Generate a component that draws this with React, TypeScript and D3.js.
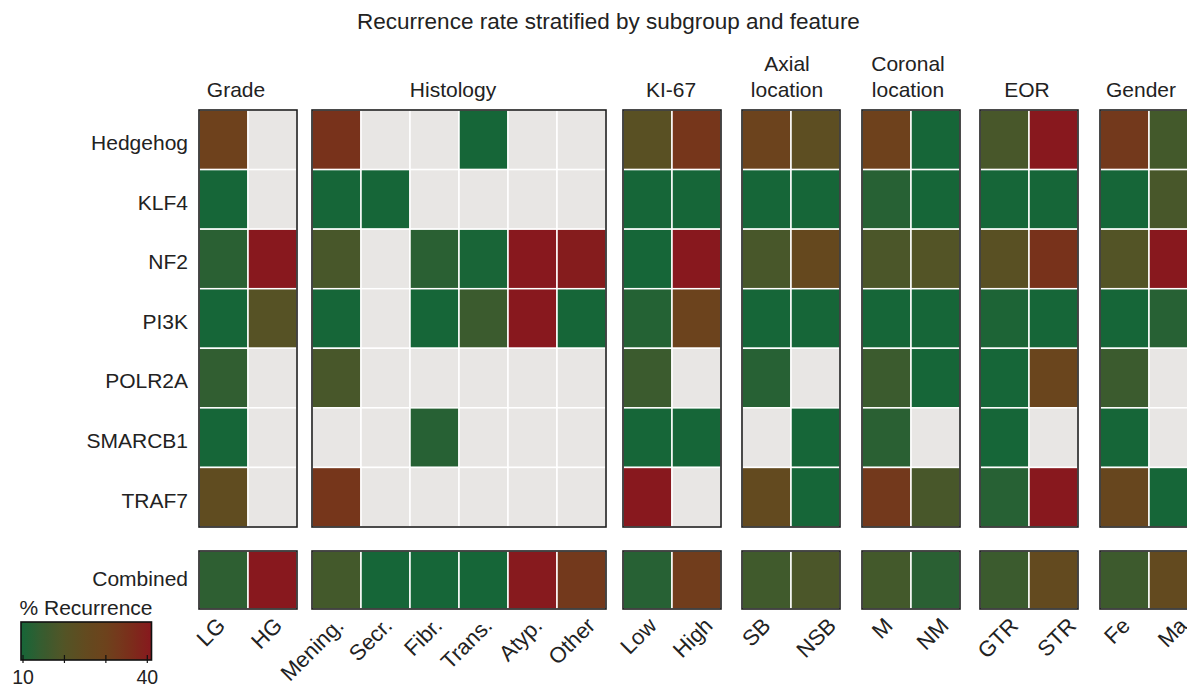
import React from "react";
import * as d3 from "d3";

const W = 1187;
const H = 688;
const FONT = "'Liberation Sans', Arial, Helvetica, sans-serif";

const genes = ["Hedgehog", "KLF4", "NF2", "PI3K", "POLR2A", "SMARCB1", "TRAF7"];

// panel headers (multi-line) and column labels
const panelTitles = [["Grade"], ["Histology"], ["KI-67"], ["Axial", "location"], ["Coronal", "location"], ["EOR"], ["Gender"]];
const panelCols = [
  ["LG", "HG"],
  ["Mening.", "Secr.", "Fibr.", "Trans.", "Atyp.", "Other"],
  ["Low", "High"],
  ["SB", "NSB"],
  ["M", "NM"],
  ["GTR", "STR"],
  ["Fe", "Ma"],
];

// % recurrence per gene (rows) and column; null = no data (gray)
const gradeVals = [[30, null], [10, null], [13, 40], [10, 21], [14, null], [10, null], [24, null]];
const histologyVals = [
  [34, null, null, 10, null, null],
  [10, 10, null, null, null, null],
  [18, null, 13, 10.5, 40, 39],
  [10, null, 10, 15.5, 40, 10],
  [18, null, null, null, null, null],
  [null, null, 12.5, null, null, null],
  [33, null, null, null, null, null],
];
const ki67Vals = [[22, 33], [10, 10], [10, 40], [12, 29], [15.5, null], [10, 10], [40, null]];
const axialVals = [[29, 23], [10, 10], [18, 26], [10, 10], [12.5, null], [null, 10], [25, 10]];
const coronalVals = [[30, 10], [12.5, 10], [18.5, 20], [10, 10], [15.5, 10], [13, null], [32, 18]];
const eorVals = [[18, 40], [10, 10], [22, 34], [11, 10], [10, 28], [10, null], [12.5, 40]];
const genderVals = [[32, 17], [10, 18], [20, 40], [10, 12.5], [15.5, null], [10, null], [27, 10]];

const combinedVals = [
  [13.5, 40],
  [17, 10, 10, 10, 39.5, 32],
  [12.5, 31],
  [16.5, 18.5],
  [17, 13],
  [15.5, 25],
  [16, 25],
];

const panelVals = [gradeVals, histologyVals, ki67Vals, axialVals, coronalVals, eorVals, genderVals];

const legendTicks = [10, 20, 30, 40];
const legendLabels = [10, 40];

// colour map stops (value -> colour)
const cmapDomain = [10, 15, 20, 25, 30, 35, 40];
const cmapRange = ["#166638", "#385c2f", "#535426", "#634a1f", "#6e411c", "#7b2e1b", "#88181e"];

// layout
const panelLeft = [199, 312, 623, 742, 862, 980, 1100];
const headerShift = [-12, -6, -1, -4, -3, -2, -8];
const labelShift = [
  [3, 11],
  [8.5, 8, 9, 10, 11, 15],
  [10.5, 17.5],
  [5.5, 22],
  [7.5, 14.5],
  [15, 24],
  [7, 15],
];
const CELL_W = 49;
const GRID_TOP = 110;
const GRID_BOTTOM = 527;
const COMB_TOP = 551;
const COMB_BOTTOM = 609;
const NA_COLOR = "#e8e6e4";

const color = d3
  .scaleLinear<string>()
  .domain(cmapDomain)
  .range(cmapRange)
  .interpolate(d3.interpolateRgb)
  .clamp(true);

export default function App() {
  const yScale = d3.scaleBand().domain(genes).range([GRID_TOP, GRID_BOTTOM]);
  const legendX = d3.scaleLinear().domain([10, 40]).range([23, 147.3]);
  const gradStops = d3.range(0, 1.0001, 0.05).map((t) => ({ t, c: color(10 + 30 * t) }));

  return (
    <svg
      width={W}
      height={H}
      style={{ position: "absolute", left: 0, top: 0, display: "block", background: "#fff" }}
      fontFamily={FONT}
    >
      <defs>
        <linearGradient id="legendGrad" x1="0" x2="1" y1="0" y2="0">
          {gradStops.map((s) => (
            <stop key={s.t} offset={s.t} stopColor={s.c} />
          ))}
        </linearGradient>
      </defs>

      <text x={608.5} y={29} fontSize={22.5} textAnchor="middle" fill="#222">
        Recurrence rate stratified by subgroup and feature
      </text>

      {/* row labels */}
      {genes.map((g) => (
        <text key={g} x={188} y={yScale(g)! + yScale.bandwidth() / 2 + 3} dy="0.35em" fontSize={21} textAnchor="end" fill="#222">
          {g}
        </text>
      ))}
      <text x={188} y={(COMB_TOP + COMB_BOTTOM) / 2 - 1} dy="0.35em" fontSize={21} textAnchor="end" fill="#222">
        Combined
      </text>

      {panelCols.map((cols, p) => {
        const x = d3
          .scaleBand()
          .domain(cols)
          .range([panelLeft[p], panelLeft[p] + cols.length * CELL_W]);
        const x0 = panelLeft[p];
        const x1 = panelLeft[p] + cols.length * CELL_W;
        const title = panelTitles[p];
        const cx = (x0 + x1) / 2 + headerShift[p];
        return (
          <g key={p}>
            {title.map((t, i) => (
              <text key={t} x={cx} y={97 - (title.length - 1 - i) * 26} fontSize={21} textAnchor="middle" fill="#222">
                {t}
              </text>
            ))}
            {genes.map((g, r) =>
              cols.map((c, ci) => {
                const v = panelVals[p][r][ci];
                return (
                  <rect
                    key={g + c}
                    x={x(c)}
                    y={yScale(g)}
                    width={x.bandwidth()}
                    height={yScale.bandwidth()}
                    fill={v == null ? NA_COLOR : color(v)}
                    stroke="#fff"
                    strokeWidth={1.5}
                  />
                );
              })
            )}
            <rect x={x0} y={GRID_TOP} width={x1 - x0} height={GRID_BOTTOM - GRID_TOP} fill="none" stroke="#1e1e1e" strokeWidth={1.6} />
            {cols.map((c, ci) => (
              <rect
                key={"comb" + c}
                x={x(c)}
                y={COMB_TOP}
                width={x.bandwidth()}
                height={COMB_BOTTOM - COMB_TOP}
                fill={color(combinedVals[p][ci])}
                stroke="#fff"
                strokeWidth={1.5}
              />
            ))}
            <rect x={x0} y={COMB_TOP} width={x1 - x0} height={COMB_BOTTOM - COMB_TOP} fill="none" stroke="#1e1e1e" strokeWidth={1.6} />
            {cols.map((c, ci) => {
              const lx = x(c)! + x.bandwidth() / 2 + labelShift[p][ci];
              const ly = 627;
              return (
                <text
                  key={"lab" + c}
                  x={lx}
                  y={ly}
                  fontSize={22}
                  textAnchor="end"
                  fill="#222"
                  transform={`rotate(-45 ${lx} ${ly})`}
                >
                  {c}
                </text>
              );
            })}
          </g>
        );
      })}

      {/* legend */}
      <text x={86} y={615} fontSize={21} textAnchor="middle" fill="#222">
        % Recurrence
      </text>
      <rect x={21} y={622} width={130.5} height={38} fill="url(#legendGrad)" stroke="#111" strokeWidth={1.6} />
      {legendTicks.map((t) => (
        <line key={t} x1={legendX(t)} x2={legendX(t)} y1={655} y2={663} stroke="#111" strokeWidth={1.2} />
      ))}
      {legendLabels.map((t) => (
        <text key={t} x={legendX(t)} y={684} fontSize={19.5} textAnchor="middle" fill="#222">
          {t}
        </text>
      ))}
    </svg>
  );
}
